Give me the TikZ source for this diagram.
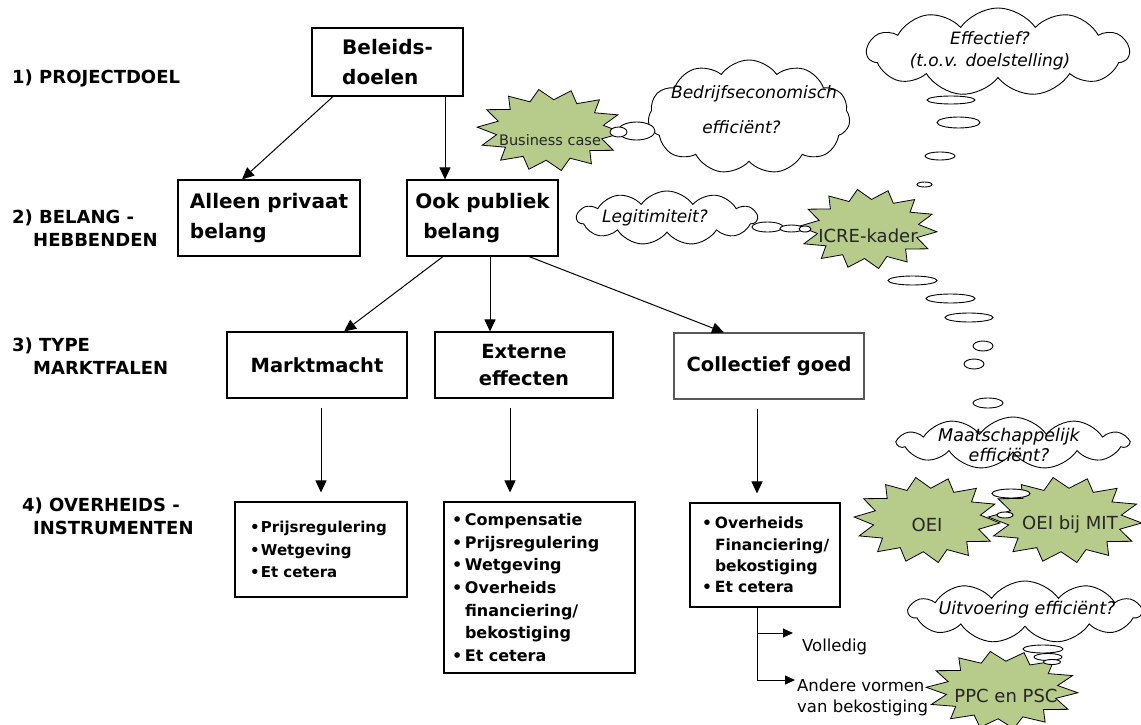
\documentclass[tikz,border=0pt]{standalone}
\usepackage{fontspec}
\setmainfont{DejaVu Sans}
\usetikzlibrary{arrows.meta,shapes.symbols,calc}
\definecolor{burstgreen}{RGB}{183,203,139}
\newcommand{\burstpoly}[4]{%
  \filldraw[burst] plot[variable=\k, samples at={0,...,27}]
    ({#1+#3*(1-0.26*mod(\k,2))*cos(\k*12.857+4)},{#2+#4*(1-0.26*mod(\k,2))*sin(\k*12.857+4)}) -- cycle;}
\newcommand{\mybul}[1]{\makebox[#1][l]{•}}
\begin{document}
\begin{tikzpicture}[x=1pt,y=-1pt,
  box/.style={draw, line width=1.1pt, inner sep=0pt, align=center},
  arr/.style={-{Triangle[length=12pt,width=11pt]}, line width=1pt},
  sarr/.style={-{Triangle[length=10pt,width=9pt]}, line width=1pt},
  lab/.style={anchor=west, align=left, inner sep=0pt, font=\bfseries\fontsize{18}{23}\selectfont},
  toptext/.style={font=\bfseries\fontsize{20}{30}\selectfont},
  midtext/.style={font=\bfseries\fontsize{19.5}{27}\selectfont},
  cloudy/.style={cloud, cloud puffs=11, cloud puff arc=110, cloud ignores aspect, draw, line width=0.9pt, fill=white, inner sep=0pt},
  ctext/.style={align=center, inner sep=0pt, font=\itshape\fontsize{17}{22}\selectfont},
  btext/.style={inner sep=0pt, text=black!85, font=\fontsize{18}{22}\selectfont},
  bub/.style={draw, fill=white, line width=0.9pt},
  burst/.style={draw=black, fill=burstgreen, line width=0.8pt},
  plain/.style={inner sep=0pt, align=left, font=\fontsize{16.5}{21}\selectfont}
]
\fill[white] (0,0) rectangle (1141,725);
\useasboundingbox (0,0) rectangle (1141,725);

% left labels
\node[lab] (l1) at (12,78) {1) PROJECTDOEL};
\node[lab] (l2) at (12,228.5) {2) BELANG -\\\hspace*{21pt}HEBBENDEN};
\node[lab] (l3) at (12,356.5) {3) TYPE\\\hspace*{21pt}MARKTFALEN};
\node[lab] (l4) at (22,516.5) {4) OVERHEIDS -\\\hspace*{11pt}INSTRUMENTEN};

% boxes
\node[box, toptext, align=left, minimum width=151pt, minimum height=68pt] (bel) at (387.5,62) {Beleids-\\doelen};
\node[box, toptext, align=left, minimum width=182pt, minimum height=76pt] (priv) at (269,218) {Alleen privaat\\belang};
\node[box, toptext, align=left, minimum width=151pt, minimum height=76pt] (pub) at (482.5,218) {Ook publiek\\\hspace*{8pt}belang};
\node[box, midtext, minimum width=180pt, minimum height=66pt] (mm) at (317,365) {Marktmacht};
\node[box, midtext, minimum width=178pt, minimum height=66pt] (ext) at (524,365) {Externe\\effecten};
\node[box, midtext, draw=black!65, minimum width=190pt, minimum height=66pt] (col) at (769,366) {Collectief goed};

\node[box, align=left, inner xsep=15pt, text width=142pt, minimum width=172pt, minimum height=95pt,
  font=\bfseries\fontsize{15}{22.5}\selectfont] (mmi) at (321,549.5)
  {\mybul{11pt}Prijsregulering\\\mybul{11pt}Wetgeving\\\mybul{11pt}Et cetera};
\node[box, align=left, inner xsep=8pt, text width=175pt, minimum width=191pt, minimum height=171pt,
  font=\bfseries\fontsize{16}{22.6}\selectfont] (exti) at (539.5,587.5)
  {\mybul{13pt}Compensatie\\\mybul{13pt}Prijsregulering\\\mybul{13pt}Wetgeving\\\mybul{13pt}Overheids\\\hspace*{13pt}financiering/\\\hspace*{13pt}bekostiging\\\mybul{13pt}Et cetera};
\node[box, align=left, inner xsep=12pt, text width=126pt, minimum width=150pt, minimum height=104pt,
  font=\bfseries\fontsize{15.5}{21.3}\selectfont] (coli) at (765,555)
  {\mybul{13pt}Overheids\\\hspace*{13pt}\mbox{Financiering/}\\\hspace*{13pt}bekostiging\\\mybul{13pt}Et cetera};

% arrows
\draw[arr] ([xshift=-54.5pt]bel.south) -- ([xshift=-27pt]priv.north);
\draw[arr] ([xshift=57.5pt]bel.south) -- ([xshift=-37.5pt]pub.north);
\draw[arr] ([xshift=-39.5pt]pub.south) -- ([xshift=27pt]mm.north);
\draw[arr] ([xshift=7.5pt]pub.south) -- ([xshift=-34pt]ext.north);
\draw[arr] ([xshift=46.5pt]pub.south) -- ([xshift=-45pt]col.north);

\coordinate (a1) at ([xshift=4pt]mm.south);
\coordinate (a2) at ([xshift=-14pt]ext.south);
\coordinate (a3) at ([xshift=-12pt]col.south);
\draw[arr, shorten <=9pt, shorten >=9pt] (a1) -- (a1 |- mmi.north);
\draw[arr, shorten <=9pt, shorten >=9pt] (a2) -- (a2 |- exti.north);
\draw[arr, shorten <=9pt, shorten >=9pt] (a3) -- (a3 |- coli.north);

% branches below Collectief instruments
\coordinate (b1) at (757,633);
\coordinate (b1e) at (793,633);
\coordinate (b2) at (757,680);
\coordinate (b2e) at (795,680);
\draw[line width=1pt] (coli.south -| b1) -- (b2);
\draw[sarr] (b1) -- (b1e);
\draw[sarr] (b2) -- (b2e);
\node[plain, anchor=west] (vol) at (802,647) {Volledig};
\node[plain, anchor=west] (and) at (797,697) {Andere vormen\\van bekostiging};

% clouds
\node[cloudy, minimum width=262pt, minimum height=88pt] (c1) at (998,52) {};
\node[cloudy, minimum width=202pt, minimum height=114pt] (c2) at (749,117) {};
\node[cloudy, minimum width=180pt, minimum height=54pt] (c3) at (667,218) {};
\node[cloudy, minimum width=230pt, minimum height=52pt] (c4) at (1013,443) {};
\node[cloudy, minimum width=232pt, minimum height=62pt] (c5) at (1025,612) {};

% starbursts
\burstpoly{550}{130}{73}{41}
\burstpoly{868}{229}{69}{40}
\burstpoly{927}{520}{73}{43}
\burstpoly{1065}{520}{77}{43}
\burstpoly{1002}{690}{76}{39}

% thought bubbles
\draw[bub] (636.5,131) ellipse [x radius=18.5pt, y radius=9pt];
\draw[bub] (618.5,132) ellipse [x radius=8.5pt, y radius=5pt];
\draw[bub] (767.5,227) ellipse [x radius=15.5pt, y radius=5pt];
\draw[bub] (791.5,228.5) ellipse [x radius=11.5pt, y radius=3.5pt];
\draw[bub] (805,229) ellipse [x radius=6pt, y radius=3pt];
\draw[bub] (951,100) ellipse [x radius=24pt, y radius=4pt];
\draw[bub] (958.5,122.5) ellipse [x radius=21.5pt, y radius=5.5pt];
\draw[bub] (940,156) ellipse [x radius=15pt, y radius=4pt];
\draw[bub] (924.5,184.5) ellipse [x radius=7.5pt, y radius=2.5pt];
\draw[bub] (912.5,280.5) ellipse [x radius=24.5pt, y radius=4.5pt];
\draw[bub] (950.5,298.5) ellipse [x radius=24.5pt, y radius=4.5pt];
\draw[bub] (969,317.5) ellipse [x radius=24pt, y radius=4.5pt];
\draw[bub] (983,346) ellipse [x radius=10pt, y radius=5pt];
\draw[bub] (974,364) ellipse [x radius=10pt, y radius=5pt];
\draw[bub] (988,403) ellipse [x radius=15pt, y radius=5pt];
\draw[bub] (1011,493.5) ellipse [x radius=19pt, y radius=4.5pt];
\draw[bub] (1005,515) ellipse [x radius=8pt, y radius=3pt];
\draw[bub] (1043,649) ellipse [x radius=20pt, y radius=4pt];
\draw[bub] (1048,657) ellipse [x radius=14pt, y radius=3.5pt];
\draw[bub] (1052,662) ellipse [x radius=8.5pt, y radius=2.5pt];

% cloud texts
\node[ctext] (t1) at (990,51) {Effectief?\\(t.o.v. doelstelling)};
\node[ctext, font=\itshape\fontsize{17}{35}\selectfont] (t2) at (754,110) {Bedrijfseconomisch\\efficiënt?\kern25pt};
\node[ctext] (t3) at (655,218) {Legitimiteit?};
\node[ctext, font=\itshape\fontsize{17.5}{20}\selectfont] (t4) at (1009,445) {Maatschappelijk\\efficiënt?};
\node[ctext, font=\itshape\fontsize{17.5}{22}\selectfont] (t5) at (1027,610) {Uitvoering efficiënt?};

% burst texts
\node[btext, font=\fontsize{14.5}{18}\selectfont] (s1) at (550,140) {Business case};
\node[btext] (s2) at (868,236) {ICRE-kader};
\node[btext] (s3) at (927,525) {OEI};
\node[btext] (s4) at (1070,525) {OEI bij MIT};
\node[btext] (s5) at (1006,696) {PPC en PSC};
\end{tikzpicture}
\end{document}
